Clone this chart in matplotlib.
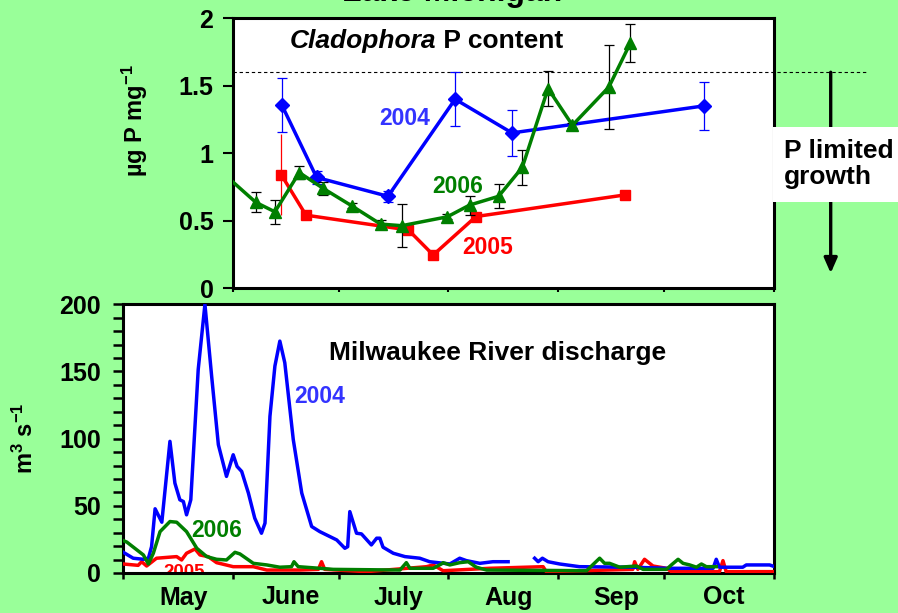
import numpy as np
import matplotlib
matplotlib.use('Agg')
import matplotlib.pyplot as plt
import matplotlib.transforms as mtransforms
from matplotlib.patches import Rectangle
from matplotlib.ticker import MultipleLocator, FixedLocator, NullFormatter, FixedFormatter

plt.rcParams['font.family'] = ['Liberation Sans', 'DejaVu Sans']
plt.rcParams['font.weight'] = 'bold'
plt.rcParams['mathtext.fontset'] = 'custom'
plt.rcParams['mathtext.rm'] = 'Liberation Sans:bold'
plt.rcParams['mathtext.bf'] = 'Liberation Sans:bold'
plt.rcParams['mathtext.it'] = 'Liberation Sans:bold:italic'
plt.rcParams['mathtext.default'] = 'bf'

# ---------------- data (x = days since May 1) ----------------
months = ['May', 'June', 'July', 'Aug', 'Sep', 'Oct']
month_starts = [0, 31, 61, 92, 123, 153, 184]

# Cladophora P content (ug P / mg)
p2004_day = [44.8, 54.7, 74.9, 93.9, 110.0, 164.2]
p2004_val = [1.36, 0.82, 0.68, 1.40, 1.15, 1.35]
p2004_err = [0.20, 0.05, 0.04, 0.20, 0.17, 0.18]

p2005_day = [44.7, 51.7, 80.7, 87.7, 99.8, 141.9]
p2005_val = [0.84, 0.54, 0.43, 0.245, 0.53, 0.69]
p2005_err = [0.30, 0.02, 0.02, 0.02, 0.02, 0.03]

p2006_day = [27.0, 37.5, 42.9, 49.8, 56.6, 64.6, 72.8, 78.8, 91.7, 98.0,
             106.2, 112.9, 120.2, 127.1, 137.4, 143.5]
p2006_val = [0.88, 0.635, 0.565, 0.856, 0.738, 0.61, 0.474, 0.462, 0.528, 0.615,
             0.68, 0.894, 1.479, 1.207, 1.49, 1.817]
p2006_err = [0.0, 0.075, 0.09, 0.05, 0.05, 0.02, 0.03, 0.16, 0.02, 0.07,
             0.09, 0.13, 0.13, 0.02, 0.31, 0.14]

p_limit = 1.6

# Milwaukee River discharge (m3/s)
q2004_day = [0, 2.8, 5.7, 7.1, 8.0, 9.0, 10.9, 13.2, 14.6, 16.0, 17.0, 17.9, 19.1,
             21.2, 23.1, 25.0, 26.9, 29.2, 31.1, 32.2, 33.5, 35.4, 37.2, 39.1, 40.1,
             41.5, 42.9, 44.3, 45.7, 48.1, 50.5, 53.3, 55.6, 60.4, 62.7, 63.5, 64.1,
             66.0, 67.4, 70.2, 71.7, 72.6, 73.5, 76.4, 79.7, 83.9, 86.7, 92.4, 95.2,
             97.1, 100.9, 104.6, 108.9, 112.0, 116.4, 117.4, 118.6, 120.2, 123.5,
             129.1, 144.2, 153.7, 166.9, 167.8, 168.7, 175.3, 176.3, 182.9, 184]
q2004_val = [15.4, 11, 10.2, 11, 19.6, 47.8, 37.8, 98, 66.9, 54.5, 53.2, 43.3, 54.5,
             151.5, 200, 146.5, 95.5, 71.9, 88, 79.3, 75.6, 59.5, 40.8, 29.6, 37.1,
             116.6, 154, 172.6, 156.5, 99.3, 59.5, 34.6, 30.8, 24.6, 18.4, 19.6, 45.7,
             29.6, 29.1, 20.9, 25.9, 25.9, 19.2, 14.7, 12.2, 11, 8.4, 6.7, 11,
             9.2, 7.2, 8.4, 8.4, np.nan, 11, 8.4, 11, 8.4, 6.7,
             4.7, 4.3, 3.5, 3.5, 10.2, 4.3, 4.3, 6, 6, 5]

q2005_day = [0, 4.2, 5.2, 6.6, 9.4, 15.1, 16.5, 17.9, 20.3, 21.7, 24.0, 26.4, 31.1,
             36.8, 40.6, 50.0, 55.2, 56.1, 57.0, 68.8, 85.8, 87.7, 90.5, 103.7,
             118.8, 119.7, 144.2, 144.7, 145.6, 147.5, 149.9, 153.7, 155.1, 168.7,
             169.7, 170.6, 184]
q2005_val = [6.7, 5.7, 8.4, 5.2, 11, 12.2, 9.7, 14.7, 17.9, 13.4, 12.2, 7.7, 4.7,
             4.7, 2.2, 2.2, 2.7, 8.4, 2.7, 1, 4.7, 6, 1.7, 3.5,
             4.7, 1, 2.7, 8.4, 2.7, 10.2, 5.2, 3.5, 1, 1,
             9.2, 1, 1]

q2006_day = [0, 1.0, 5.7, 7.1, 8.5, 10.4, 13.2, 15.1, 17.9, 20.8, 23.6, 26.4, 29.2,
             31.6, 33.0, 36.8, 40.6, 44.3, 47.6, 48.3, 49.5, 55.6, 59.4, 78.3, 80.1,
             81.1, 87.7, 90.0, 90.5, 92.4, 95.2, 97.6, 99.9, 102.8, 131.1, 134.8,
             136.2, 137.6, 140.5, 145.2, 147.1, 153.7, 155.1, 157.0, 158.4, 160.3,
             162.2, 163.6, 165.0, 167.8]
q2006_val = [24.1, 23, 13.4, 6.7, 14.7, 30.8, 38.3, 37.8, 30.8, 18.4, 12.2, 10.2, 9.7,
             15.4, 14.2, 7.2, 6, 4.3, 4.7, 8.4, 4.7, 3.5, 2.7, 2.2, 7.7,
             3.5, 3.5, 6.7, 7.7, 6, 7.7, 8.4, 4.3, 2.2, 1.7, 11,
             7.2, 7.2, 4.3, 5.2, 2.7, 2.7, 6, 10.2, 7.2, 6,
             4.3, 6.7, 4.7, 4.7]

# ---------------- styling ----------------
BG = '#99FF99'
BLUE = '#0000FF'
RED = '#FF0000'
GREEN = '#007F00'
W, H = 898, 613
LW = 2.5

fig = plt.figure(figsize=(W / 100, H / 100), dpi=100, facecolor=BG)

# bottom axes (pixels)
bl, br, bt, bb = 123.3, 773.5, 304.3, 573.0
axb = fig.add_axes([bl / W, 1 - bb / H, (br - bl) / W, (bb - bt) / H])
# top axes shares the same day scale, starting June 1
tl = bl + (month_starts[1] - month_starts[0]) / (month_starts[-1] - month_starts[0]) * (br - bl)
tt, tb = 18.3, 288.0
axt = fig.add_axes([tl / W, 1 - tb / H, (br - tl) / W, (tb - tt) / H])

for ax in (axt, axb):
    ax.set_facecolor('white')
    for s in ax.spines.values():
        s.set_linewidth(2.2)
        s.set_color('black')

# ---------------- top panel ----------------
axt.errorbar(p2004_day, p2004_val, yerr=p2004_err, color=BLUE, ecolor=BLUE,
             lw=LW, marker='D', ms=7.5, elinewidth=0.9, capsize=3.5, capthick=0.9, zorder=3)
axt.errorbar(p2005_day, p2005_val, yerr=p2005_err, color=RED, ecolor=RED,
             lw=LW, marker='s', ms=7, elinewidth=0.9, capsize=0, capthick=0.9, zorder=3)
axt.errorbar(p2006_day, p2006_val, yerr=p2006_err, color=GREEN, ecolor='black',
             lw=LW, marker='^', ms=8, elinewidth=0.9, capsize=3.5, capthick=0.9, zorder=4)

axt.set_xlim(month_starts[1], month_starts[-1])
axt.set_ylim(0, 2)
axt.yaxis.set_major_locator(FixedLocator([0, 0.5, 1, 1.5, 2]))
axt.yaxis.set_major_formatter(FixedFormatter(['0', '0.5', '1', '1.5', '2']))
axt.xaxis.set_major_locator(FixedLocator(month_starts[1:]))
axt.xaxis.set_major_formatter(NullFormatter())
axt.tick_params(axis='y', direction='out', length=7, width=1.5, pad=7, labelsize=18)
axt.tick_params(axis='x', direction='out', length=3, width=1.5)
axt.set_ylabel(r'µg P mg$^{-1}$', fontsize=17, fontweight='bold')
axt.yaxis.set_label_coords((135 - tl) / (br - tl), (tb - 121) / (tb - tt))
axt.yaxis.label.set_va('center')

# dashed P-limitation threshold extending past the axes
axt.axhline(p_limit, xmin=0, xmax=(868 - tl) / (br - tl), color='black', lw=0.8,
            ls=(0, (3, 2.5)), clip_on=False, zorder=2)
trans = mtransforms.blended_transform_factory(axt.transAxes, axt.transData)
xa = (830.7 - tl) / (br - tl)
axt.annotate('', xy=(xa, 0.11), xytext=(xa, p_limit), xycoords=trans, textcoords=trans,
             arrowprops=dict(arrowstyle='-|>,head_length=0.5,head_width=0.22',
                             mutation_scale=18, lw=2.4, color='black',
                             shrinkA=0, shrinkB=0),
             annotation_clip=False)

axt.text(88.6, 1.78, 'Cladophora', fontsize=19, fontweight='bold', style='italic',
         ha='right', va='baseline')
axt.text(88.6, 1.78, ' P content', fontsize=19, fontweight='bold', ha='left', va='baseline')
axt.text(79.5, 1.257, '2004', color='#3333FF', fontsize=16.5, fontweight='bold',
         ha='center', va='center')
axt.text(94.5, 0.75, '2006', color=GREEN, fontsize=16.5, fontweight='bold',
         ha='center', va='center')
axt.text(103.1, 0.304, '2005', color=RED, fontsize=16.5, fontweight='bold',
         ha='center', va='center')

# ---------------- bottom panel ----------------
axb.plot(q2005_day, q2005_val, color=RED, lw=LW, zorder=3)
axb.plot(q2004_day, q2004_val, color=BLUE, lw=LW, zorder=3)
axb.plot(q2006_day, q2006_val, color=GREEN, lw=LW, zorder=3)

axb.set_xlim(month_starts[0], month_starts[-1])
axb.set_ylim(0, 200)
axb.yaxis.set_major_locator(MultipleLocator(50))
axb.yaxis.set_minor_locator(MultipleLocator(10))
axb.xaxis.set_major_locator(FixedLocator(month_starts))
axb.xaxis.set_major_formatter(NullFormatter())
mids = [(a + b) / 2 + 1.5 for a, b in zip(month_starts[:-1], month_starts[1:])]
axb.xaxis.set_minor_locator(FixedLocator(mids))
axb.xaxis.set_minor_formatter(FixedFormatter(months))
axb.tick_params(axis='x', which='major', direction='out', length=4, width=1.8)
axb.tick_params(axis='x', which='minor', length=0, pad=9, labelsize=18)
axb.tick_params(axis='y', which='both', direction='out', length=7, width=1.8,
                pad=9, labelsize=18)
axb.set_ylabel(r'm$^{3}$ s$^{-1}$', fontsize=17, fontweight='bold')
axb.yaxis.set_label_coords((25 - bl) / (br - bl), (bb - 438) / (bb - bt))
axb.yaxis.label.set_va('center')

axb.text(105.8, 163.7, 'Milwaukee River discharge', fontsize=19, fontweight='bold',
         ha='center', va='center')
axb.text(55.5, 131.2, '2004', color='#3333FF', fontsize=16.5, fontweight='bold',
         ha='center', va='center', zorder=4)
axb.text(26.4, 32, '2006', color=GREEN, fontsize=16.5, fontweight='bold',
         ha='center', va='center', zorder=4)
axb.text(17.1, 0.5, '2005', color=RED, fontsize=13.5, fontweight='bold',
         ha='center', va='center', zorder=1, clip_on=True)

# ---------------- figure-level annotations ----------------
fig.text(451.7 / W, 1 - 1.5 / H, 'Lake Michigan', fontsize=23, fontweight='bold',
         ha='center', va='baseline')
fig.patches.append(Rectangle((773 / W, 1 - 201.7 / H), 125 / W, 74.7 / H,
                             transform=fig.transFigure, facecolor='white',
                             edgecolor='none', zorder=5))
fig.text(784 / W, 1 - 164 / H, 'P limited\ngrowth', fontsize=19, fontweight='bold',
         ha='left', va='center', linespacing=1.1, zorder=6)

fig.savefig('out.png', dpi=100, facecolor=BG)
